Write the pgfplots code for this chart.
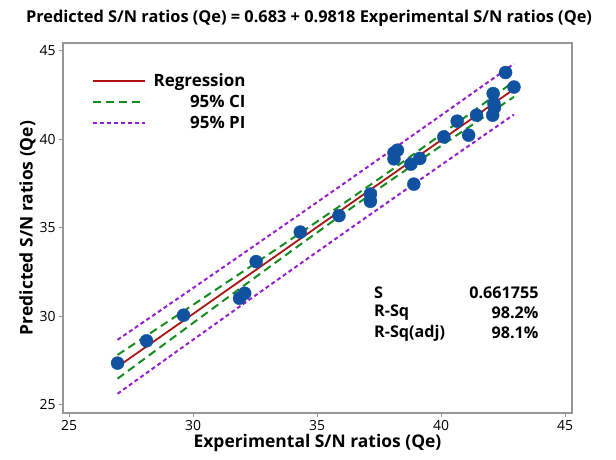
\documentclass[border=0pt]{standalone}
\usepackage{pgfplots}
\pgfplotsset{compat=1.18}
\usepackage{fontspec}
\setmainfont{Open Sans}
\definecolor{ptblue}{RGB}{16,82,160}
\definecolor{regred}{RGB}{170,20,20}
\definecolor{cigreen}{RGB}{20,140,30}
\definecolor{pipurple}{RGB}{150,30,210}
\definecolor{axgray}{RGB}{150,150,150}
\begin{document}
\begin{tikzpicture}
\begin{axis}[
  at={(0,0)}, anchor=south west,
  width=509bp, height=370bp, scale only axis,
  xmin=24.75, xmax=45.28, ymin=24.53, ymax=45.45,
  xtick={25,30,35,40,45}, ytick={25,30,35,40,45},
  tick pos=left, tick align=outside,
  major tick length=4bp,
  tick style={axgray, line width=1pt},
  axis line style={axgray, line width=1.5pt},
  /pgf/number format/assume math mode=true,
  ticklabel style={font=\fontsize{14}{16}\selectfont, text=black},
  xlabel={Experimental S/N ratios (Qe)},
  ylabel={Predicted S/N ratios (Qe)},
  label style={font=\fontsize{17.5}{20}\selectfont\bfseries, text=black},
  xlabel style={yshift=3bp},
  ylabel style={yshift=-3bp},
  legend style={draw=none, fill=none, at={(0.056,0.922)}, anchor=north west,
    font=\fontsize{17}{19}\selectfont\bfseries, row sep=3bp, text=black,
    inner sep=0pt},
  legend cell align=right,
  /pgfplots/legend image code/.code={\draw[#1] (0bp,0bp) -- (52bp,0bp); \path (58bp,0bp);},
  clip=false,
]
\addplot[regred, line width=1.8pt] coordinates {(26.95,27.142) (42.94,42.841)};
\addlegendentry{Regression}
\addplot[cigreen, line width=2pt, dash pattern=on 8bp off 5bp] coordinates {
(26.95,27.814) (28,28.789) (30,30.649) (32,32.517) (34,34.400) (36,36.312) (37.28,37.559) (38,38.268) (40,40.273) (42,42.311) (42.94,43.275)};
\addlegendentry{95\% CI}
\addplot[cigreen, line width=2pt, dash pattern=on 8bp off 5bp, forget plot] coordinates {
(26.95,26.470) (28,27.557) (30,29.625) (32,31.685) (34,33.728) (36,35.744) (37.28,37.011) (38,37.714) (40,39.637) (42,41.527) (42.94,42.407)};
\addplot[pipurple, line width=2pt, dash pattern=on 4bp off 3bp] coordinates {
(26.95,28.667) (28,29.674) (30,31.599) (32,33.532) (34,35.474) (36,37.426) (37.28,38.681) (38,39.388) (40,41.360) (42,43.343) (42.94,44.277)};
\addlegendentry{95\% PI}
\addplot[pipurple, line width=2pt, dash pattern=on 4bp off 3bp, forget plot] coordinates {
(26.95,25.617) (28,26.672) (30,28.675) (32,30.670) (34,32.654) (36,34.630) (37.28,35.889) (38,36.594) (40,38.550) (42,40.495) (42.94,41.405)};
\addplot[only marks, mark=*, mark size=6.5bp, mark options={fill=ptblue, draw=ptblue}, forget plot] coordinates {
(26.95,27.35) (28.12,28.61) (29.61,30.06) (31.87,31.02) (32.08,31.30) (32.54,33.09)
(34.32,34.76) (35.88,35.69) (37.15,36.91) (37.15,36.50) (38.10,39.24) (38.24,39.39)
(38.10,38.90) (38.78,38.60) (39.14,38.92) (38.90,37.47) (40.11,40.14) (40.65,41.03)
(41.11,40.24) (41.43,41.37) (42.10,42.59) (42.13,42.03) (42.15,41.80) (42.08,41.37)
(42.60,43.78) (42.94,42.96)};
\node[anchor=west, font=\fontsize{16.2}{19}\selectfont\bfseries] at (axis cs:37.16,31.32) {S};
\node[anchor=west, font=\fontsize{16.2}{19}\selectfont\bfseries] at (axis cs:37.16,30.19) {R-Sq};
\node[anchor=west, font=\fontsize{16.2}{19}\selectfont\bfseries] at (axis cs:37.16,29.06) {R-Sq(adj)};
\node[anchor=east, font=\fontsize{16.2}{19}\selectfont\bfseries] at (axis cs:44.07,31.32) {0.661755};
\node[anchor=east, font=\fontsize{16.2}{19}\selectfont\bfseries] at (axis cs:44.07,30.19) {98.2\%};
\node[anchor=east, font=\fontsize{16.2}{19}\selectfont\bfseries] at (axis cs:44.07,29.06) {98.1\%};
\end{axis}
\node[font=\fontsize{16.4}{19}\selectfont\bfseries] at (246bp,395bp) {Predicted S/N ratios (Qe) = 0.683 + 0.9818 Experimental S/N ratios (Qe)};
\pgfresetboundingbox
\path (-63bp,-47bp) rectangle (553bp,413bp);
\end{tikzpicture}
\end{document}
